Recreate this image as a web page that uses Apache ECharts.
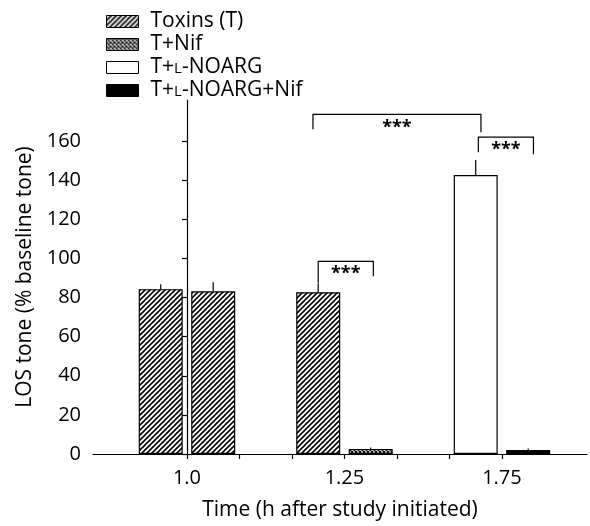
<!DOCTYPE html>
<html>
<head>
<meta charset="utf-8">
<script src="https://cdn.jsdelivr.net/npm/echarts@6/dist/echarts.min.js"></script>
<style>
html,body{margin:0;padding:0;background:#fff;}
#chart{width:590px;height:526px;}
</style>
</head>
<body>
<div id="chart"></div>
<script>
// ---- data ----
const categories = ['1.0', '1.25', '1.75'];
const seriesNames = ['Toxins (T)', 'T+Nif', 'T+L-NOARG', 'T+L-NOARG+Nif'];
// each time point has a left and a right bar
const leftSeries  = ['Toxins (T)', 'Toxins (T)', 'T+L-NOARG'];
const leftValues  = [84.3, 82.7, 142.6];
const leftErrors  = [2.5, 4.6, 7.7];
const rightSeries = ['Toxins (T)', 'T+Nif', 'T+L-NOARG+Nif'];
const rightValues = [83.2, 2.5, 2.0];
const rightErrors = [4.6, 0.8, 0.8];
const yTicks = [0, 20, 40, 60, 80, 100, 120, 140, 160];
// significance brackets: [fromSlot, toSlot, top, leftEnd, rightEnd]
const brackets = [
  [2.5, 3.55, 98.5, 87.5, 90.9],
  [2.4, 5.6, 173.6, 166, 164.5],
  [5.55, 6.6, 162, 154.3, 153.3]
];
const sigLabels = ['***', '***', '***'];

// ---- patterns ----
function hatchPattern() {
  const c = document.createElement('canvas');
  c.width = 5; c.height = 5;
  const g = c.getContext('2d');
  g.fillStyle = '#fff'; g.fillRect(0, 0, 5, 5);
  g.strokeStyle = '#000'; g.lineWidth = 1.6;
  g.beginPath();
  g.moveTo(-1, 6); g.lineTo(6, -1);
  g.moveTo(-1, 1); g.lineTo(1, -1);
  g.moveTo(4, 6); g.lineTo(6, 4);
  g.stroke();
  return { image: c, repeat: 'repeat' };
}
function crossPattern() {
  const c = document.createElement('canvas');
  c.width = 4; c.height = 4;
  const g = c.getContext('2d');
  g.fillStyle = '#fff'; g.fillRect(0, 0, 4, 4);
  g.strokeStyle = '#000'; g.lineWidth = 1.1;
  g.beginPath();
  g.moveTo(0, 0); g.lineTo(4, 4);
  g.moveTo(0, 4); g.lineTo(4, 0);
  g.stroke();
  return { image: c, repeat: 'repeat' };
}
const fills = {
  'Toxins (T)': hatchPattern(),
  'T+Nif': crossPattern(),
  'T+L-NOARG': '#ffffff',
  'T+L-NOARG+Nif': '#000000'
};

const FONT = '"Open Sans", "Noto Sans", sans-serif';
const slotOf = (i, side) => 3 * i + (side === 'left' ? -0.5 : 0.5);

// build bar series
const barSeries = seriesNames.map(name => {
  const data = [];
  categories.forEach((c, i) => {
    if (leftSeries[i] === name) data.push([slotOf(i, 'left'), leftValues[i]]);
    if (rightSeries[i] === name) data.push([slotOf(i, 'right'), rightValues[i]]);
  });
  return {
    name, type: 'bar', data, barWidth: 44, barGap: '-100%',
    itemStyle: { color: fills[name], borderColor: '#000', borderWidth: 1.2 },
    emphasis: { disabled: true }, z: 2
  };
});

const errData = [];
categories.forEach((c, i) => {
  errData.push([slotOf(i, 'left'), leftValues[i], leftErrors[i]]);
  errData.push([slotOf(i, 'right'), rightValues[i], rightErrors[i]]);
});

const errSeries = {
  type: 'custom', name: 'err', data: errData, z: 3,
  encode: { x: 0, y: 1 },
  renderItem(params, api) {
    const x = api.value(0), y = api.value(1), e = api.value(2);
    const p1 = api.coord([x, y]);
    const p2 = api.coord([x, y + e]);
    return { type: 'line', shape: { x1: p1[0], y1: p1[1], x2: p2[0], y2: p2[1] },
      style: { stroke: '#000', lineWidth: 1.2 } };
  }
};

const bracketSeries = {
  type: 'custom', name: 'sig', data: brackets.map((b, i) => b.concat([i])), z: 4,
  encode: { x: 0, y: 2 },
  renderItem(params, api) {
    const x1 = api.value(0), x2 = api.value(1), top = api.value(2), yl = api.value(3), yr = api.value(4);
    const a = api.coord([x1, yl]), b = api.coord([x1, top]), c = api.coord([x2, top]), d = api.coord([x2, yr]);
    return { type: 'group', children: [
      { type: 'polyline', shape: { points: [a, b, c, d] }, style: { stroke: '#000', lineWidth: 1.2, fill: null } },
      { type: 'text', x: (b[0] + c[0]) / 2, y: b[1] + 4,
        style: { text: sigLabels[params.dataIndex], font: 'bold 18px ' + FONT, fill: '#000',
          align: 'center', verticalAlign: 'top' } }
    ] };
  }
};

const chart = echarts.init(document.getElementById('chart'), null, { renderer: 'canvas' });
chart.setOption({
  animation: false,
  backgroundColor: '#fff',
  textStyle: { fontFamily: FONT, color: '#000' },
  legend: {
    data: seriesNames, orient: 'vertical', left: 106, top: 11, padding: 0,
    itemWidth: 32, itemHeight: 12, itemGap: 2, icon: 'rect',
    selectedMode: false,
    itemStyle: { borderColor: '#000', borderWidth: 1 },
    formatter: name => name.replace('+L-', '+{sc|L}-'),
    textStyle: { fontFamily: FONT, fontSize: 21, color: '#000', lineHeight: 20, padding: [0, 0, 0, 7],
      rich: { sc: { fontFamily: FONT, fontSize: 15, color: '#000', padding: [3, 0, 0, 0] } } }
  },
  grid: { left: 93, right: 3, top: 100, bottom: 69, containLabel: false },
  xAxis: {
    type: 'value', min: -1.79, max: 7.62,
    name: 'Time (h after study initiated)', nameLocation: 'middle', nameGap: 46,
    nameTextStyle: { fontFamily: FONT, fontSize: 21, color: '#000' },
    axisLine: { show: true, onZero: false, lineStyle: { color: '#000', width: 1.2 } },
    axisTick: { show: true, length: 5, customValues: [0, 1, 2, 3, 4, 5, 6], lineStyle: { color: '#000', width: 1.2 } },
    axisLabel: { customValues: [0, 3, 6], formatter: v => categories[Math.round(v / 3)], margin: 14,
      fontFamily: FONT, fontSize: 20, color: '#000' },
    splitLine: { show: false }
  },
  yAxis: {
    type: 'value', min: 0, max: 181,
    name: 'LOS tone (% baseline tone)', nameLocation: 'middle', nameGap: 56,
    nameTextStyle: { fontFamily: FONT, fontSize: 21, color: '#000' },
    axisLine: { show: true, lineStyle: { color: '#000', width: 1.2 } },
    axisTick: { show: true, length: 5, customValues: yTicks, lineStyle: { color: '#000', width: 1.2 } },
    axisLabel: { customValues: yTicks, margin: 12, fontFamily: FONT, fontSize: 20, color: '#000' },
    splitLine: { show: false }
  },
  series: barSeries.concat([errSeries, bracketSeries])
});
</script>
</body>
</html>
